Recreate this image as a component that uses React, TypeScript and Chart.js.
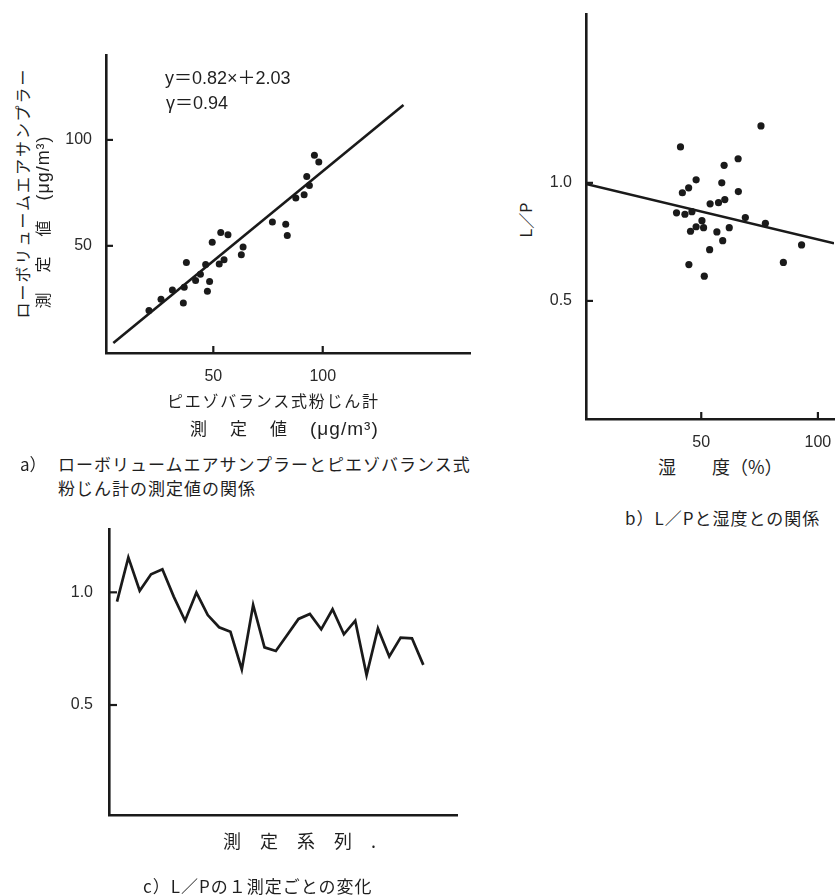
import React, { useEffect, useRef } from "react";
import { Chart, registerables } from "chart.js";

Chart.register(...registerables);

// ---------- a) ピエゾバランス式粉じん計 vs ローボリュームエアサンプラー ----------
const piezoValues = [20.6, 26.1, 31.3, 36.3, 36.7, 37.7, 41.9, 44.1, 46.5, 47.3, 48.3, 49.5, 52.7, 53.4, 54.9, 56.7, 62.8, 63.6, 77.0, 83.1, 83.8, 87.7, 91.5, 92.7, 93.9, 96.2, 98.2];
const lowVolValues = [19.5, 24.8, 29.2, 23.0, 30.5, 42.1, 33.6, 36.6, 41.2, 28.6, 33.2, 51.7, 41.4, 56.3, 43.4, 55.2, 45.8, 49.4, 61.2, 60.2, 54.9, 72.6, 74.1, 82.7, 78.5, 92.8, 89.6];
const regressionAX = [4.3, 136.9];
const regressionAY = [4.1, 116.5];
const ticksA = [50, 100];

// ---------- b) L/P vs 湿度 ----------
const humidityValues = [41.1, 75.6, 65.8, 59.8, 47.8, 58.8, 44.6, 41.9, 65.9, 60.1, 57.4, 53.8, 39.4, 43.0, 46.0, 50.3, 47.8, 51.0, 45.4, 56.7, 62.0, 68.9, 77.5, 59.2, 53.6, 93.0, 85.2, 44.7, 51.3];
const lpValuesB = [1.152, 1.241, 1.102, 1.074, 1.013, 1.0, 0.979, 0.958, 0.963, 0.929, 0.916, 0.911, 0.873, 0.867, 0.878, 0.84, 0.814, 0.81, 0.795, 0.792, 0.81, 0.853, 0.829, 0.755, 0.717, 0.737, 0.663, 0.654, 0.605];
const regressionBX = [0.6, 106.9];
const regressionBY = [0.995, 0.744];
const ticksHumidity = [50, 100];
const ticksLP = [0.5, 1.0];

// ---------- c) L/P の1測定ごとの変化 ----------
const seriesC = [1, 2, 3, 4, 5, 6, 7, 8, 9, 10, 11, 12, 13, 14, 15, 16, 17, 18, 19, 20, 21, 22, 23, 24, 25, 26, 27, 28];
const lpSeriesC = [0.959, 1.155, 1.007, 1.08, 1.102, 0.981, 0.874, 0.999, 0.899, 0.845, 0.825, 0.658, 0.944, 0.756, 0.74, 0.811, 0.882, 0.904, 0.836, 0.925, 0.814, 0.874, 0.633, 0.84, 0.715, 0.799, 0.796, 0.678];

const INK = "#1a1a1a";
const TEXT = "#1f1f1f";
const JP = "'Noto Sans CJK JP', 'Noto Sans', sans-serif";
const NUM = "'Liberation Sans', 'Noto Sans CJK JP', sans-serif";

const innerTicks = {
  id: "innerTicks",
  afterDatasetsDraw(chart: any, _args: any, opts: any) {
    const { ctx, chartArea } = chart;
    const xs = chart.scales.x;
    const ys = chart.scales.y;
    ctx.save();
    ctx.strokeStyle = INK;
    ctx.lineWidth = 2.2;
    (opts.x || []).forEach((v: number) => {
      const px = xs.getPixelForValue(v);
      ctx.beginPath();
      ctx.moveTo(px, chartArea.bottom);
      ctx.lineTo(px, chartArea.bottom - (opts.len || 6));
      ctx.stroke();
    });
    (opts.y || []).forEach((v: number) => {
      const py = ys.getPixelForValue(v);
      ctx.beginPath();
      ctx.moveTo(chartArea.left, py);
      ctx.lineTo(chartArea.left + (opts.len || 6), py);
      ctx.stroke();
    });
    ctx.restore();
  },
};

function axis(o: {
  min: number;
  max: number;
  ticks?: number[];
  size: number;
  labels: boolean;
  padding?: number;
  fmt?: (v: number) => string;
}) {
  const s: any = {
    type: "linear",
    min: o.min,
    max: o.max,
    grid: { display: false },
    border: { display: true, color: INK, width: 2.6 },
    ticks: {
      display: o.labels,
      padding: o.padding ?? 6,
      color: "#2a2a2a",
      autoSkip: false,
      maxRotation: 0,
      font: { family: NUM, size: 16 },
      callback: (v: any) => (o.fmt ? o.fmt(Number(v)) : String(v)),
    },
    afterFit: (sc: any) => {
      if (sc.isHorizontal()) sc.height = o.size;
      else sc.width = o.size;
      sc.paddingTop = 0;
      sc.paddingBottom = 0;
      sc.paddingLeft = 0;
      sc.paddingRight = 0;
    },
  };
  if (o.ticks) {
    s.afterBuildTicks = (sc: any) => {
      sc.ticks = o.ticks!.map((v) => ({ value: v }));
    };
  }
  return s;
}

const baseOptions = (padding: any, ticks: any, scales: any) => ({
  responsive: false,
  animation: false,
  events: [],
  layout: { padding },
  plugins: {
    legend: { display: false },
    tooltip: { enabled: false },
    title: { display: false },
    innerTicks: ticks,
  },
  scales,
});

function configA(): any {
  return {
    type: "scatter",
    data: {
      datasets: [
        {
          type: "scatter",
          data: piezoValues.map((x, i) => ({ x, y: lowVolValues[i] })),
          pointRadius: 3.5,
          pointBackgroundColor: INK,
          pointBorderWidth: 0,
        },
        {
          type: "line",
          data: regressionAX.map((x, i) => ({ x, y: regressionAY[i] })),
          borderColor: INK,
          borderWidth: 2.6,
          pointRadius: 0,
          fill: false,
        },
      ],
    },
    options: baseOptions(
      { top: 15, right: 10, left: 0, bottom: 0 },
      { x: ticksA, y: ticksA, len: 7 },
      {
        x: axis({ min: 0.96, max: 167.3, ticks: ticksA, size: 37, labels: true, padding: 6 }),
        y: axis({ min: -0.6, max: 140.1, ticks: ticksA, size: 56, labels: true, padding: 6 }),
      }
    ),
    plugins: [innerTicks],
  };
}

function configB(): any {
  return {
    type: "scatter",
    data: {
      datasets: [
        {
          type: "scatter",
          data: humidityValues.map((x, i) => ({ x, y: lpValuesB[i] })),
          pointRadius: 3.6,
          pointBackgroundColor: INK,
          pointBorderWidth: 0,
        },
        {
          type: "line",
          data: regressionBX.map((x, i) => ({ x, y: regressionBY[i] })),
          borderColor: INK,
          borderWidth: 2.6,
          pointRadius: 0,
          fill: false,
        },
      ],
    },
    options: baseOptions(
      { top: 14, right: 0, left: 0, bottom: 0 },
      { x: ticksHumidity, y: ticksLP, len: 7 },
      {
        x: axis({ min: 0.6, max: 106.9, ticks: ticksHumidity, size: 31, labels: true, padding: 6 }),
        y: axis({ min: 0, max: 1.715, ticks: ticksLP, size: 46, labels: true, padding: 6, fmt: (v) => v.toFixed(1) }),
      }
    ),
    plugins: [innerTicks],
  };
}

function configC(): any {
  return {
    type: "line",
    data: {
      datasets: [
        {
          data: seriesC.map((x, i) => ({ x, y: lpSeriesC[i] })),
          borderColor: INK,
          borderWidth: 2.7,
          borderJoinStyle: "miter",
          tension: 0,
          pointRadius: 0,
          fill: false,
        },
      ],
    },
    options: baseOptions(
      { top: 14, right: 13, left: 0, bottom: 0 },
      { y: ticksLP, len: 8 },
      {
        x: axis({ min: 0.294, max: 30.97, size: 30, labels: false }),
        y: axis({ min: 0.012, max: 1.281, ticks: ticksLP, size: 49, labels: true, padding: 8, fmt: (v) => v.toFixed(1) }),
      }
    ),
    plugins: [innerTicks],
  };
}

function ChartBox(props: { left: number; top: number; width: number; height: number; make: () => any }) {
  const ref = useRef<HTMLCanvasElement>(null);
  useEffect(() => {
    const chart = new Chart(ref.current as HTMLCanvasElement, props.make());
    return () => chart.destroy();
  }, []);
  return (
    <canvas
      ref={ref}
      width={props.width}
      height={props.height}
      style={{ position: "absolute", left: props.left, top: props.top, width: props.width, height: props.height }}
    />
  );
}

function T(props: { x: number; cy: number; size?: number; ls?: number; font?: string; children: any }) {
  const size = props.size ?? 17;
  return (
    <div
      style={{
        position: "absolute",
        left: props.x,
        top: props.cy - size / 2,
        fontSize: size,
        lineHeight: 1,
        letterSpacing: props.ls ?? 0,
        fontFamily: props.font ?? JP,
        color: TEXT,
        whiteSpace: "nowrap",
      }}
    >
      {props.children}
    </div>
  );
}

function RT(props: { cx: number; cy: number; size?: number; ls?: number; font?: string; children: any }) {
  const size = props.size ?? 16;
  return (
    <div
      style={{
        position: "absolute",
        left: props.cx,
        top: props.cy,
        transform: "translate(-50%, -50%) rotate(-90deg)",
        fontSize: size,
        lineHeight: 1,
        letterSpacing: props.ls ?? 0,
        fontFamily: props.font ?? JP,
        color: TEXT,
        whiteSpace: "nowrap",
      }}
    >
      {props.children}
    </div>
  );
}

const unit = (
  <span style={{ letterSpacing: 1, fontFamily: NUM, fontSize: "1.12em" }}>
    (<i style={{ fontStyle: "normal" }}>μ</i>g/m³)
  </span>
);

export default function App() {
  return (
    <div
      style={{
        position: "absolute",
        left: 0,
        top: 0,
        width: 838,
        height: 895,
        overflow: "hidden",
        background: "#ffffff",
      }}
    >
      {/* a) */}
      <ChartBox left={50} top={40} width={430} height={350} make={configA} />
      <T x={165} cy={78} size={18} font={NUM}>y＝0.82×＋2.03</T>
      <T x={166} cy={103} size={18} font={NUM}>γ＝0.94</T>
      <RT cx={22} cy={193} size={16} ls={2}>ローボリュームエアサンプラー</RT>
      <RT cx={43} cy={222} size={16}>
        <span style={{ letterSpacing: 2 }}>測　定　値　</span>
        {unit}
      </RT>
      <T x={167} cy={400} size={16} ls={1.75}>ピエゾバランス式粉じん計</T>
      <T x={190} cy={427} size={17}>
        <span style={{ letterSpacing: 3 }}>測　定　値　</span>
        {unit}
      </T>
      <T x={20} cy={463} size={17}>a）</T>
      <T x={58} cy={463} size={17} ls={1}>ローボリュームエアサンプラーとピエゾバランス式</T>
      <T x={58} cy={487} size={17} ls={1}>粉じん計の測定値の関係</T>

      {/* b) */}
      <ChartBox left={540} top={0} width={298} height={450} make={configB} />
      <RT cx={525} cy={220} size={16}>L／P</RT>
      <T x={658} cy={466} size={18}>湿　　度（%）</T>
      <T x={625} cy={517} size={17} ls={1}>b）L／Pと湿度との関係</T>

      {/* c) */}
      <ChartBox left={60} top={515} width={410} height={330} make={configC} />
      <T x={223} cy={840} size={18} ls={0.5}>測　定　系　列　.</T>
      <T x={143} cy={885} size={17} ls={1}>c）L／Pの１測定ごとの変化</T>
    </div>
  );
}
